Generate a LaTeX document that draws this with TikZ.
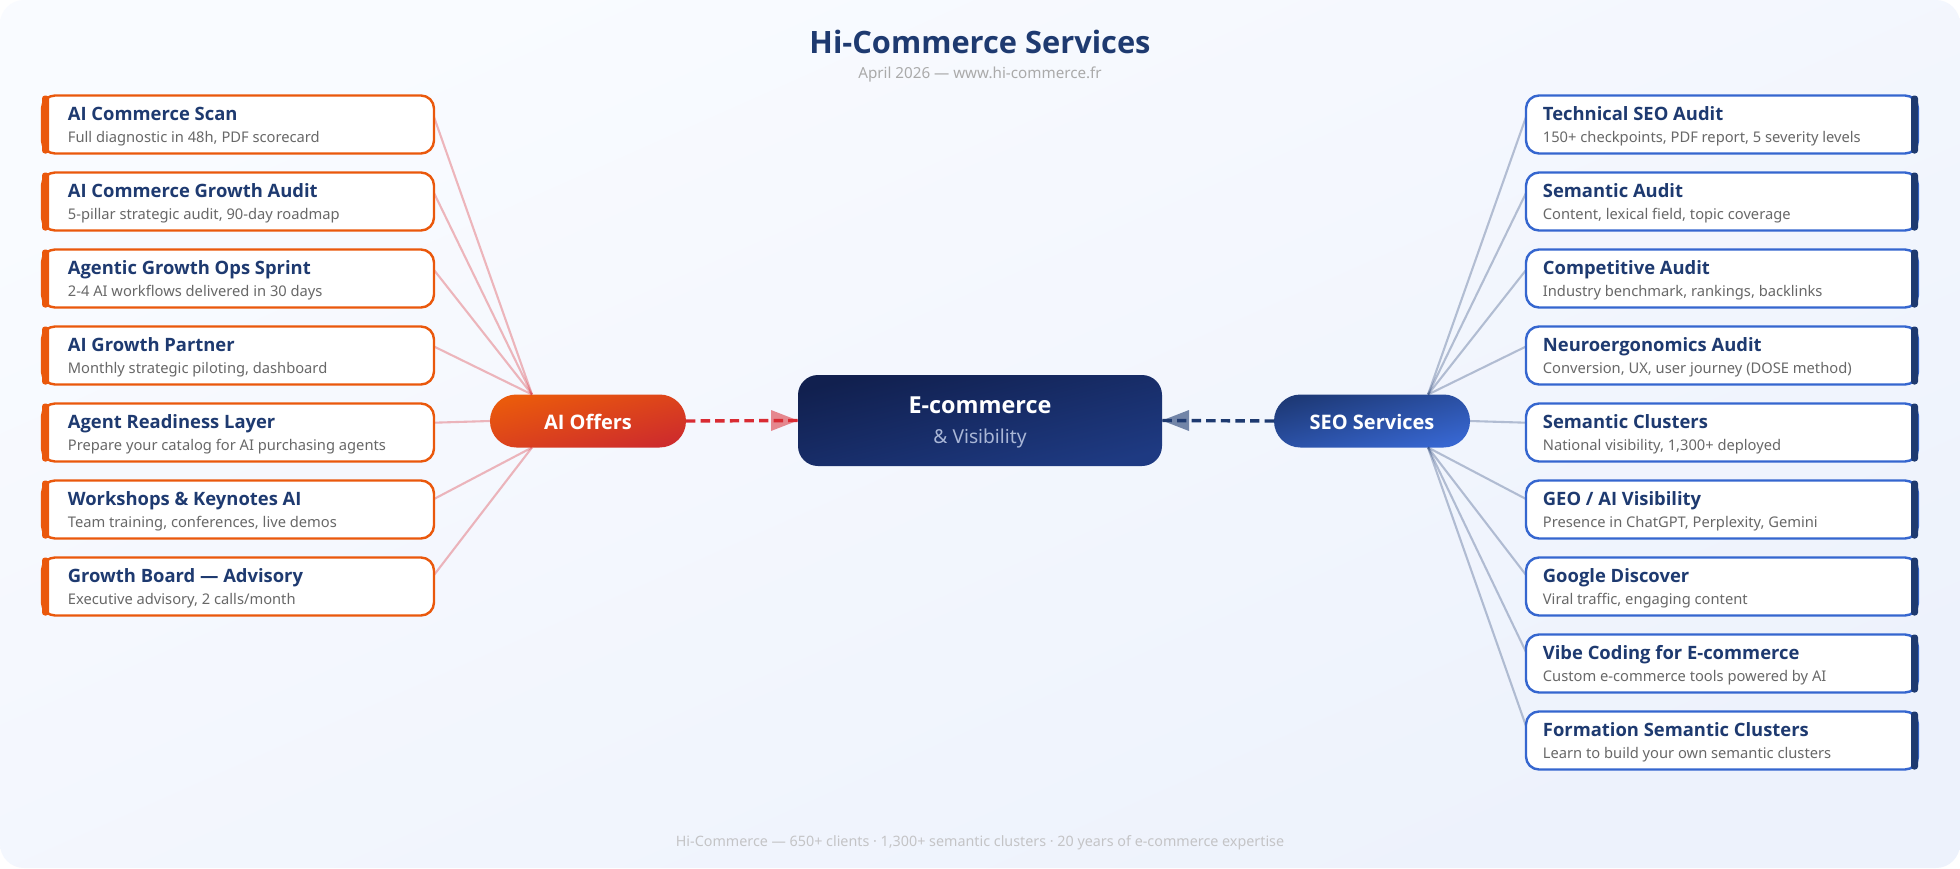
\documentclass[tikz,border=0pt]{standalone}
\usepackage{fontspec}
\setmainfont{Noto Sans}
\newfontfamily\hdfam{Open Sans}
\usetikzlibrary{calc}
\pgfdeclarelayer{top}
\pgfsetlayers{main,top}
\definecolor{navy}{HTML}{1E3A70}
\definecolor{orangeb}{HTML}{EA580C}
\definecolor{blueb}{HTML}{3566CF}
\definecolor{redl}{HTML}{D92B33}
\definecolor{subgray}{HTML}{686868}
\definecolor{capgray}{HTML}{AAAAAA}
\definecolor{footgray}{HTML}{C4C4C6}
\definecolor{visib}{HTML}{A9B6D6}
\definecolor{bgA}{HTML}{F9FBFF}
\definecolor{bgB}{HTML}{EDF2FC}
\definecolor{coreA}{HTML}{11204F}
\definecolor{coreB}{HTML}{1E3A82}
\definecolor{aiA}{HTML}{EA5A0C}
\definecolor{aiB}{HTML}{CE2C2C}
\definecolor{seoA}{HTML}{1E3A78}
\definecolor{seoB}{HTML}{3766D0}
\tikzset{
  x=0.5pt,y=-0.5pt,
  itembox/.style={rectangle,draw,line width=1.2pt,fill=white,rounded corners=6.5pt,minimum width=196pt,minimum height=29pt,inner sep=0pt,outer sep=0pt},
  lbox/.style={itembox,draw=orangeb},
  rbox/.style={itembox,draw=blueb},
  barshape/.style={rectangle,rounded corners=1.5pt,minimum width=3.5pt,minimum height=29pt,inner sep=0pt,outer sep=0pt},
  ititle/.style={anchor=base west,inner sep=0pt,text=navy,font=\hdfam\bfseries\fontsize{9.2pt}{11pt}\selectfont},
  isub/.style={anchor=base west,inner sep=0pt,text=subgray,font=\fontsize{7.35pt}{9pt}\selectfont},
  hubpill/.style={rectangle,rounded corners=13.2pt,minimum width=98pt,minimum height=26.5pt,inner sep=0pt,outer sep=0pt},
  pilltext/.style={anchor=base,inner sep=0pt,text=white,font=\hdfam\bfseries\fontsize{10pt}{12pt}\selectfont},
  ailink/.style={draw=redl,draw opacity=.33,line width=1.05pt},
  seolink/.style={draw=navy,draw opacity=.3,line width=1.05pt},
  aidash/.style={draw=redl,line width=1.7pt,dash pattern=on 4.7pt off 2.6pt},
  seodash/.style={draw=navy,line width=1.7pt,dash pattern=on 4.7pt off 2.6pt},
  aihead/.style={fill=redl,fill opacity=.55},
  seohead/.style={fill=navy,fill opacity=.6},
}
\newcommand{\leftitem}[4]{%
  \node[lbox] (#1) at (238,#2+29) {};
  \node[barshape,fill=orangeb] (#1bar) at (45.5,#2+29) {};
  \node[ititle] (#1t) at (67.5,#2+25) {#3};
  \node[isub] (#1s) at (67.5,#2+47) {#4};
}
\newcommand{\rightitem}[4]{%
  \node[rbox] (#1) at (1722,#2+29) {};
  \node[barshape,fill=navy] (#1bar) at (1914.5,#2+29) {};
  \node[ititle] (#1t) at (1542.5,#2+25) {#3};
  \node[isub] (#1s) at (1542.5,#2+47) {#4};
}
\begin{document}
\begin{tikzpicture}
\useasboundingbox (0,0) rectangle (1960,868);
\fill[white] (0,0) rectangle (1960,868);
\path[rounded corners=12pt,shade,shading=axis,top color=bgA,bottom color=bgB,shading angle=24] (0,0) rectangle (1960,868);
% heading
\node[anchor=base,inner sep=0pt,text=navy,font=\hdfam\bfseries\fontsize{15.4pt}{18pt}\selectfont] (title) at (980,53) {Hi-Commerce Services};
\node[anchor=base,inner sep=0pt,text=capgray,font=\fontsize{7.6pt}{9pt}\selectfont] (subtitle) at (980,78) {April 2026 — www.hi-commerce.fr};
\node[anchor=base,inner sep=0pt,text=footgray,font=\fontsize{7.16pt}{9pt}\selectfont] (footer) at (980,846) {Hi-Commerce — 650+ clients · 1,300+ semantic clusters · 20 years of e-commerce expertise};
% hubs
\node[hubpill,shade,shading=axis,top color=aiA,bottom color=aiB,shading angle=15] (ai) at (588,421) {};
\node[pilltext] (ait) at (588,429.3) {AI Offers};
\node[hubpill,shade,shading=axis,top color=seoA,bottom color=seoB,shading angle=15] (seo) at (1372,421) {};
\node[pilltext] (seot) at (1372,429.3) {SEO Services};
\node[rectangle,rounded corners=10pt,minimum width=182pt,minimum height=45.5pt,inner sep=0pt,outer sep=0pt,shade,shading=axis,top color=coreA,bottom color=coreB,shading angle=14] (core) at (980,420.5) {};
\node[anchor=base,inner sep=0pt,text=white,font=\hdfam\bfseries\fontsize{11.7pt}{14pt}\selectfont] (coret) at (980,413) {E-commerce};
\node[anchor=base,inner sep=0pt,text=visib,font=\fontsize{9.6pt}{11pt}\selectfont] (cores) at (980,443) {\& Visibility};
% hub ports
\coordinate (aiup) at ([xshift=21pt]ai.north west);
\coordinate (aidn) at ([xshift=21pt]ai.south west);
\coordinate (seoup) at ([xshift=-21pt]seo.north east);
\coordinate (seodn) at ([xshift=-21pt]seo.south east);
\begin{pgfonlayer}{top}
\leftitem{la}{95.5}{AI Commerce Scan}{Full diagnostic in 48h, PDF scorecard}
\leftitem{lb}{172.5}{AI Commerce Growth Audit}{5-pillar strategic audit, 90-day roadmap}
\leftitem{lc}{249.5}{Agentic Growth Ops Sprint}{2-4 AI workflows delivered in 30 days}
\leftitem{ld}{326.5}{AI Growth Partner}{Monthly strategic piloting, dashboard}
\leftitem{le}{403.5}{Agent Readiness Layer}{Prepare your catalog for AI purchasing agents}
\leftitem{lf}{480.5}{Workshops \& Keynotes AI}{Team training, conferences, live demos}
\leftitem{lg}{557.5}{Growth Board — Advisory}{Executive advisory, 2 calls/month}
\rightitem{ra}{95.5}{Technical SEO Audit}{150+ checkpoints, PDF report, 5 severity levels}
\rightitem{rb}{172.5}{Semantic Audit}{Content, lexical field, topic coverage}
\rightitem{rc}{249.5}{Competitive Audit}{Industry benchmark, rankings, backlinks}
\rightitem{rd}{326.5}{Neuroergonomics Audit}{Conversion, UX, user journey (DOSE method)}
\rightitem{re}{403.5}{Semantic Clusters}{National visibility, 1,300+ deployed}
\rightitem{rf}{480.5}{GEO / AI Visibility}{Presence in ChatGPT, Perplexity, Gemini}
\rightitem{rg}{557.5}{Google Discover}{Viral traffic, engaging content}
\rightitem{rh}{634.5}{Vibe Coding for E-commerce}{Custom e-commerce tools powered by AI}
\rightitem{ri}{711.5}{Formation Semantic Clusters}{Learn to build your own semantic clusters}
\end{pgfonlayer}
% links
\draw[ailink] ([yshift=3.75pt]la.east) -- (aiup);
\draw[ailink] ([yshift=4.25pt]lb.east) -- (aiup);
\draw[ailink] ([yshift=4.25pt]lc.east) -- (aiup);
\draw[ailink] ([yshift=4.5pt]ld.east) -- (aiup);
\draw[ailink] ([yshift=4.9pt]le.east) -- (ai.west);
\draw[ailink] ([yshift=5.25pt]lf.east) -- (aidn);
\draw[ailink] ([yshift=5.75pt]lg.east) -- (aidn);
\draw[seolink] ([yshift=3.75pt]ra.west) -- (seoup);
\draw[seolink] ([yshift=4.25pt]rb.west) -- (seoup);
\draw[seolink] ([yshift=4.25pt]rc.west) -- (seoup);
\draw[seolink] ([yshift=4.5pt]rd.west) -- (seoup);
\draw[seolink] ([yshift=4.9pt]re.west) -- (seo.east);
\draw[seolink] ([yshift=5.25pt]rf.west) -- (seodn);
\draw[seolink] ([yshift=5.75pt]rg.west) -- (seodn);
\draw[seolink] ([yshift=5.75pt]rh.west) -- (seodn);
\draw[seolink] ([yshift=7.25pt]ri.west) -- (seodn);
% hub to centre
\draw[aidash] (ai.east) -- (core.west);
\path[aihead] (core.west) -- ++(-27,-10.5) -- ++(0,21) -- cycle;
\draw[seodash] (seo.west) -- (core.east);
\path[seohead] (core.east) -- ++(27,-10.5) -- ++(0,21) -- cycle;
\end{tikzpicture}
\end{document}
